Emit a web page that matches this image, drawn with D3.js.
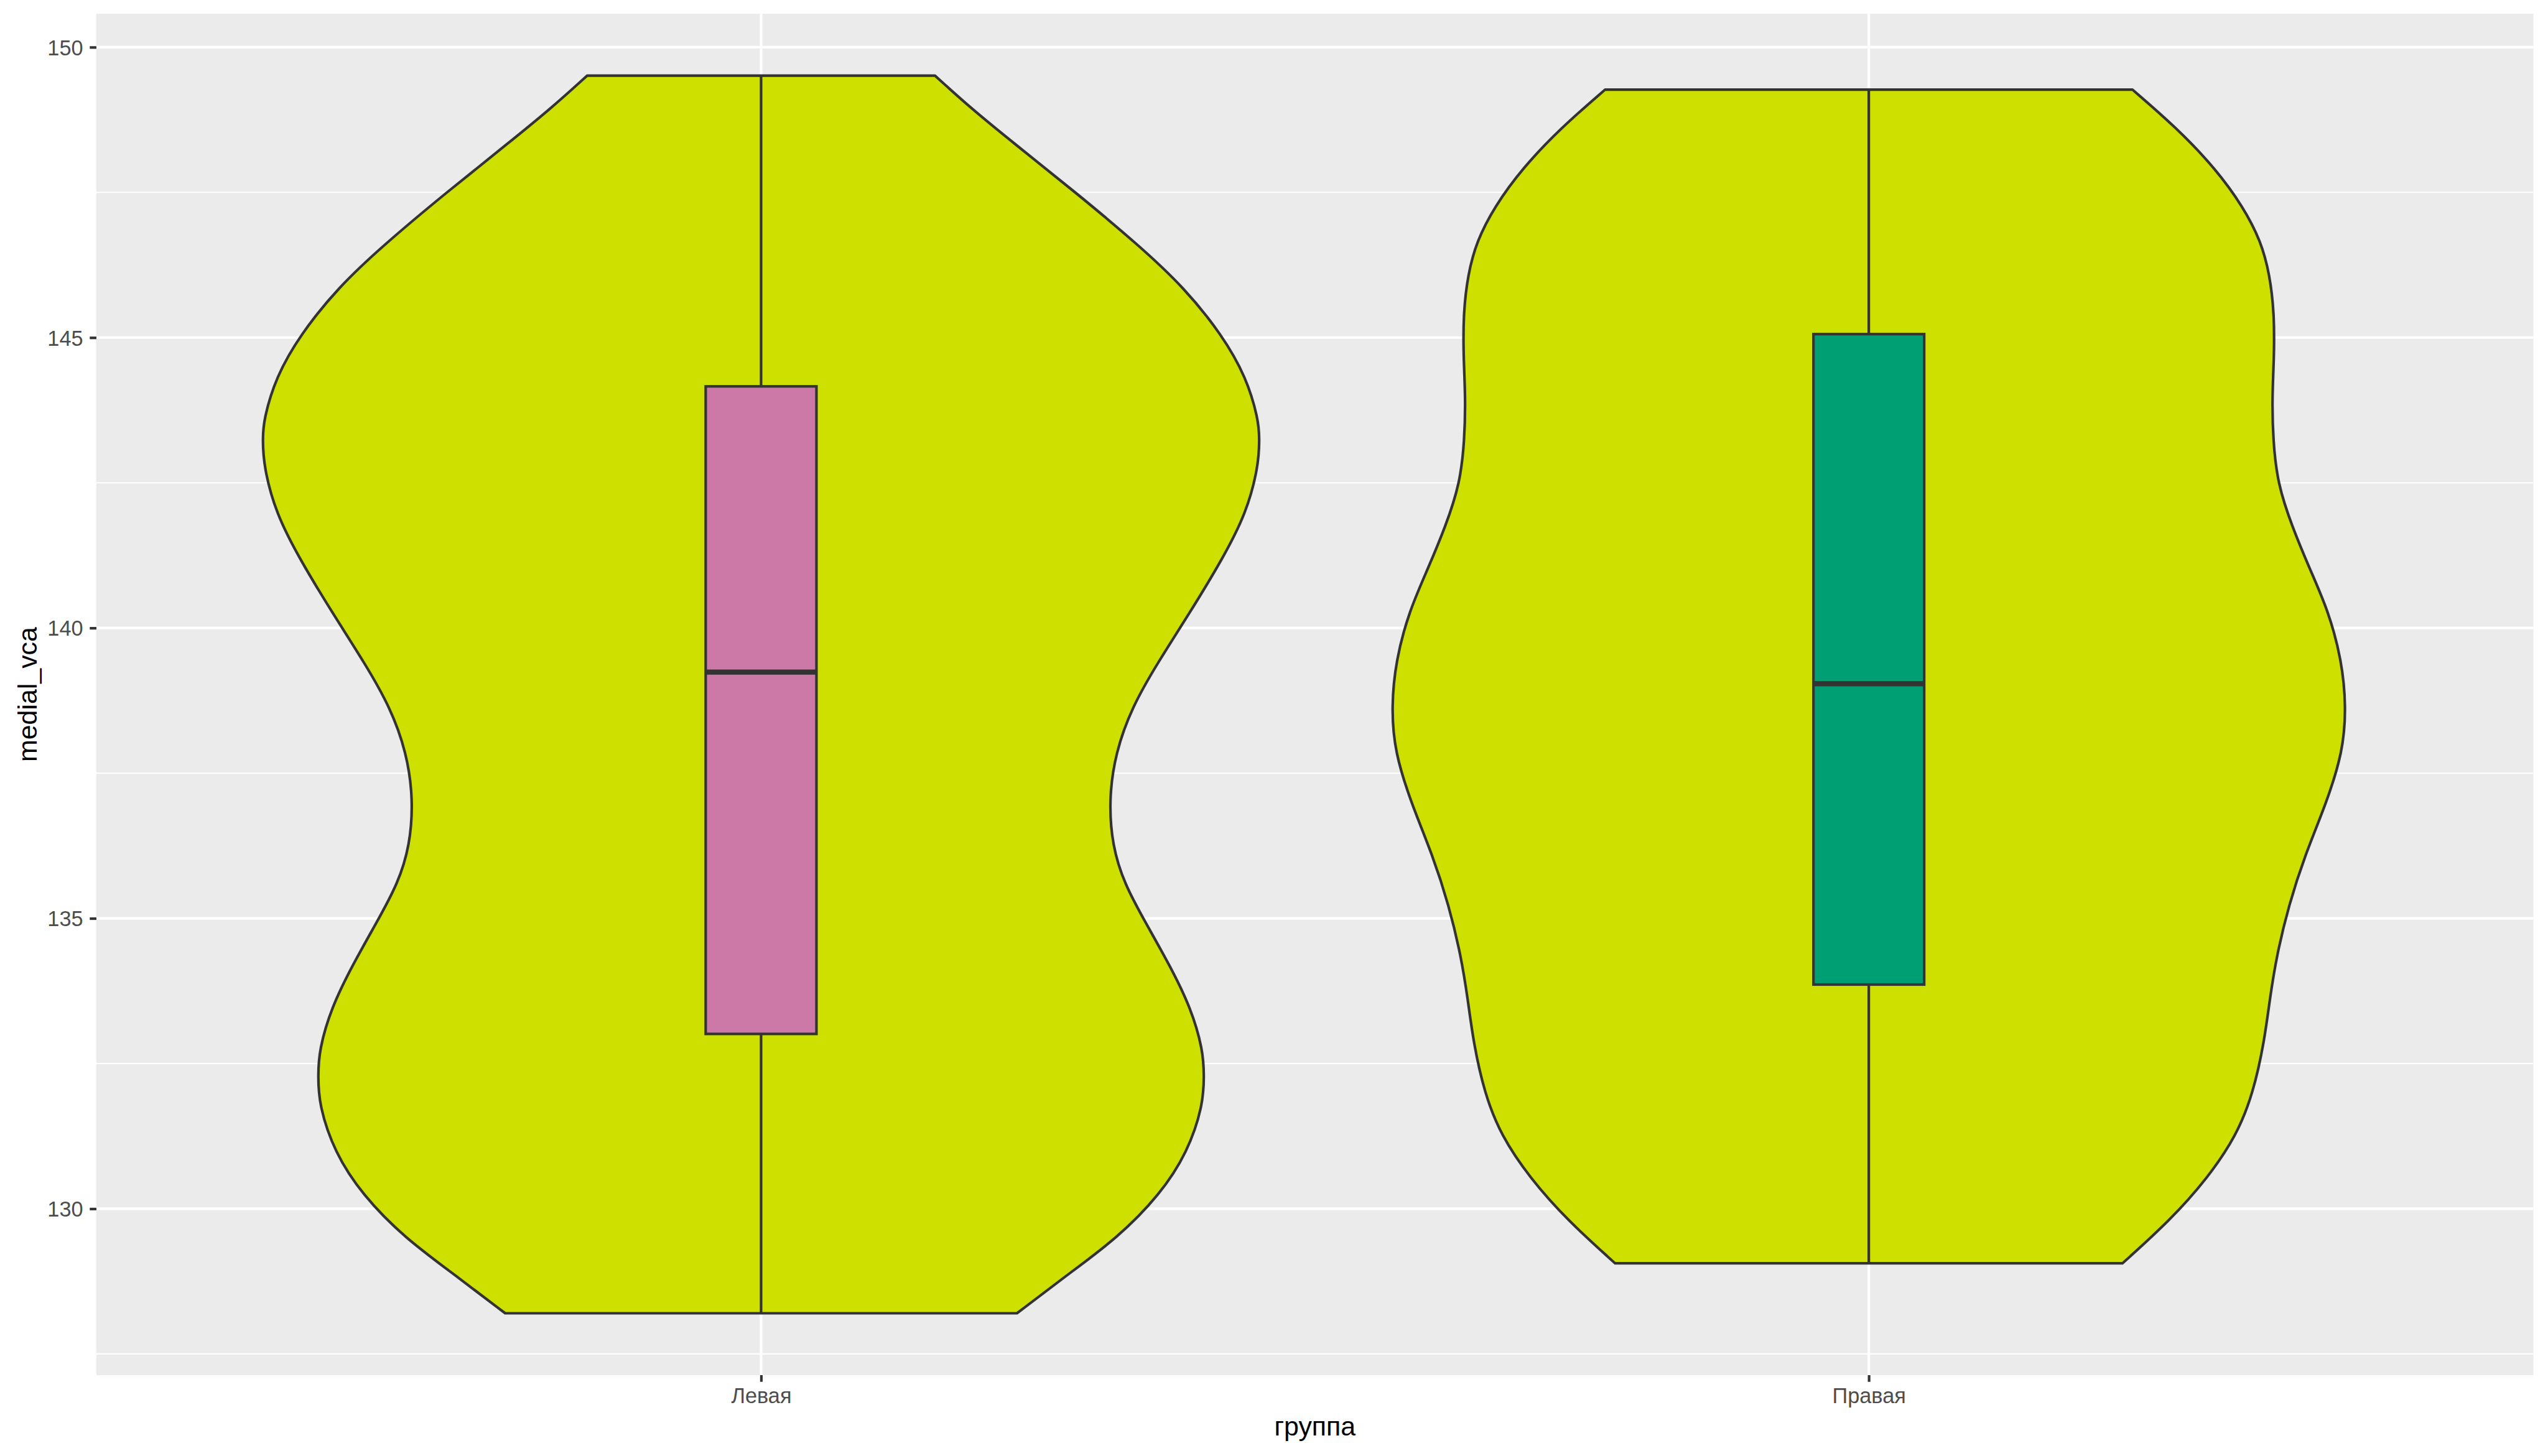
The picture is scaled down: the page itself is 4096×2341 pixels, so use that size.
<!DOCTYPE html>
<html>
<head>
<meta charset="utf-8">
<script src="https://cdn.jsdelivr.net/npm/d3@7"></script>
<style>
  html, body { margin: 0; padding: 0; background: #ffffff; }
  svg { display: block; }
</style>
</head>
<body>
<script>
// ---------- data ----------
const categories = ["Левая", "Правая"];
const boxFill = ["#CC79A7", "#009E73"];

// violin outline: value (y) and half-width (in category units)
const leftValue = [149.51, 148.94, 148.35, 147.50, 146.59, 145.86, 145.05, 144.32, 143.59, 143.26, 142.78, 141.97, 141.17, 140.29, 139.37, 138.64, 137.86, 137.05, 136.25, 135.59, 134.93, 134.19, 133.46, 132.73, 132.29, 131.78, 130.97, 130.24, 129.50, 128.84, 128.20];
const leftHalfWidth = [0.157, 0.190, 0.228, 0.284, 0.341, 0.382, 0.416, 0.438, 0.449, 0.450, 0.449, 0.438, 0.416, 0.388, 0.357, 0.335, 0.320, 0.314, 0.317, 0.328, 0.347, 0.369, 0.388, 0.399, 0.400, 0.399, 0.385, 0.360, 0.322, 0.275, 0.231];

const rightValue = [149.27, 148.61, 147.91, 147.25, 146.66, 146.08, 145.42, 144.69, 143.95, 143.22, 142.49, 141.75, 141.02, 140.29, 139.44, 138.64, 137.86, 136.98, 136.10, 135.22, 134.34, 133.61, 132.87, 131.99, 131.26, 130.53, 129.80, 129.06];
const rightHalfWidth = [0.238, 0.278, 0.313, 0.338, 0.354, 0.362, 0.366, 0.366, 0.364, 0.365, 0.369, 0.382, 0.398, 0.415, 0.427, 0.431, 0.428, 0.413, 0.394, 0.379, 0.368, 0.362, 0.357, 0.347, 0.332, 0.306, 0.272, 0.229];

// box plot statistics per category
const whiskerLow = [128.20, 129.06];
const boxLower = [133.01, 133.86];
const boxMedian = [139.24, 139.04];
const boxUpper = [144.16, 145.06];
const whiskerHigh = [149.51, 149.27];

const yTickValues = [130, 135, 140, 145, 150];
const xTitle = "группа";
const yTitle = "medial_vca";

// ---------- layout (reference pixel space, scaled by 0.975) ----------
const S = 0.975;
const panel = { left: 159, right: 4177, top: 22.7, bottom: 2267.7 };
const FONT = "'Liberation Sans', Arial, Helvetica, sans-serif";
const lineCol = "#333333";
const lw = 4.3;

const svg = d3.select("body").append("svg")
  .attr("width", 4096).attr("height", 2341);
svg.append("rect").attr("width", 4096).attr("height", 2341).attr("fill", "#ffffff");
const root = svg.append("g").attr("transform", `scale(${S})`);

const violins = [
  leftValue.map((v, i) => ({ v, w: leftHalfWidth[i] })),
  rightValue.map((v, i) => ({ v, w: rightHalfWidth[i] }))
];

// y domain: data range expanded by 5% each side (ggplot default)
const allVals = leftValue.concat(rightValue);
const [ymin, ymax] = d3.extent(allVals);
const pad = (ymax - ymin) * 0.05;
const y = d3.scaleLinear().domain([ymin - pad, ymax + pad]).range([panel.bottom, panel.top]);
const x = d3.scalePoint().domain(categories).range([panel.left, panel.right]).padding(0.6);
const unit = x.step();

// panel background
root.append("rect")
  .attr("x", panel.left).attr("y", panel.top)
  .attr("width", panel.right - panel.left).attr("height", panel.bottom - panel.top)
  .attr("fill", "#EBEBEB");

// minor gridlines
const minor = [];
const stepT = yTickValues[1] - yTickValues[0];
yTickValues.forEach(t => minor.push(t - stepT / 2));
minor.push(yTickValues[yTickValues.length - 1] + stepT / 2);
const yDom = y.domain();
root.append("g").selectAll("line")
  .data(minor.filter(m => m >= yDom[0] && m <= yDom[1]))
  .join("line")
  .attr("x1", panel.left).attr("x2", panel.right)
  .attr("y1", d => y(d)).attr("y2", d => y(d))
  .attr("stroke", "#ffffff").attr("stroke-width", 2.15);

// major gridlines
root.append("g").selectAll("line")
  .data(yTickValues)
  .join("line")
  .attr("x1", panel.left).attr("x2", panel.right)
  .attr("y1", d => y(d)).attr("y2", d => y(d))
  .attr("stroke", "#ffffff").attr("stroke-width", lw);
root.append("g").selectAll("line")
  .data(categories)
  .join("line")
  .attr("y1", panel.top).attr("y2", panel.bottom)
  .attr("x1", d => x(d)).attr("x2", d => x(d))
  .attr("stroke", "#ffffff").attr("stroke-width", lw);

// violins
categories.forEach((c, i) => {
  const cx = x(c);
  const area = d3.area()
    .y(d => y(d.v))
    .x0(d => cx - d.w * unit)
    .x1(d => cx + d.w * unit)
    .curve(d3.curveBasis);
  root.append("path")
    .datum(violins[i])
    .attr("d", area)
    .attr("fill", "#CEE000")
    .attr("stroke", lineCol)
    .attr("stroke-width", lw)
    .attr("stroke-linejoin", "round");
});

// boxplots
const boxHalf = 0.05 * unit;
categories.forEach((c, i) => {
  const cx = x(c);
  const g = root.append("g");
  g.append("line").attr("x1", cx).attr("x2", cx)
    .attr("y1", y(whiskerHigh[i])).attr("y2", y(boxUpper[i]))
    .attr("stroke", lineCol).attr("stroke-width", lw);
  g.append("line").attr("x1", cx).attr("x2", cx)
    .attr("y1", y(boxLower[i])).attr("y2", y(whiskerLow[i]))
    .attr("stroke", lineCol).attr("stroke-width", lw);
  g.append("rect")
    .attr("x", cx - boxHalf).attr("width", 2 * boxHalf)
    .attr("y", y(boxUpper[i])).attr("height", y(boxLower[i]) - y(boxUpper[i]))
    .attr("fill", boxFill[i]).attr("stroke", lineCol).attr("stroke-width", lw);
  g.append("line")
    .attr("x1", cx - boxHalf).attr("x2", cx + boxHalf)
    .attr("y1", y(boxMedian[i])).attr("y2", y(boxMedian[i]))
    .attr("stroke", lineCol).attr("stroke-width", lw * 2);
});

// axes
const yAxis = root.append("g")
  .attr("transform", `translate(${panel.left},0)`)
  .call(d3.axisLeft(y).tickValues(yTickValues).tickSize(11).tickPadding(11).tickFormat(d3.format("d")));
const xAxis = root.append("g")
  .attr("transform", `translate(0,${panel.bottom})`)
  .call(d3.axisBottom(x).tickSize(11).tickPadding(10));
[yAxis, xAxis].forEach(a => {
  a.select(".domain").remove();
  a.selectAll(".tick line").attr("stroke", lineCol).attr("stroke-width", lw);
  a.selectAll(".tick text")
    .attr("fill", "#4D4D4D")
    .attr("font-family", FONT)
    .attr("font-size", 35.2);
});
yAxis.selectAll(".tick text").attr("dy", "0.36em");
xAxis.selectAll(".tick text").attr("dy", "0.71em");

// axis titles
root.append("text")
  .attr("x", (panel.left + panel.right) / 2).attr("y", 2367)
  .attr("text-anchor", "middle")
  .attr("font-family", FONT).attr("font-size", 44)
  .attr("fill", "#000000")
  .text(xTitle);
root.append("text")
  .attr("transform", `translate(60,${(panel.top + panel.bottom) / 2}) rotate(-90)`)
  .attr("text-anchor", "middle")
  .attr("font-family", FONT).attr("font-size", 44)
  .attr("fill", "#000000")
  .text(yTitle);
</script>
</body>
</html>
